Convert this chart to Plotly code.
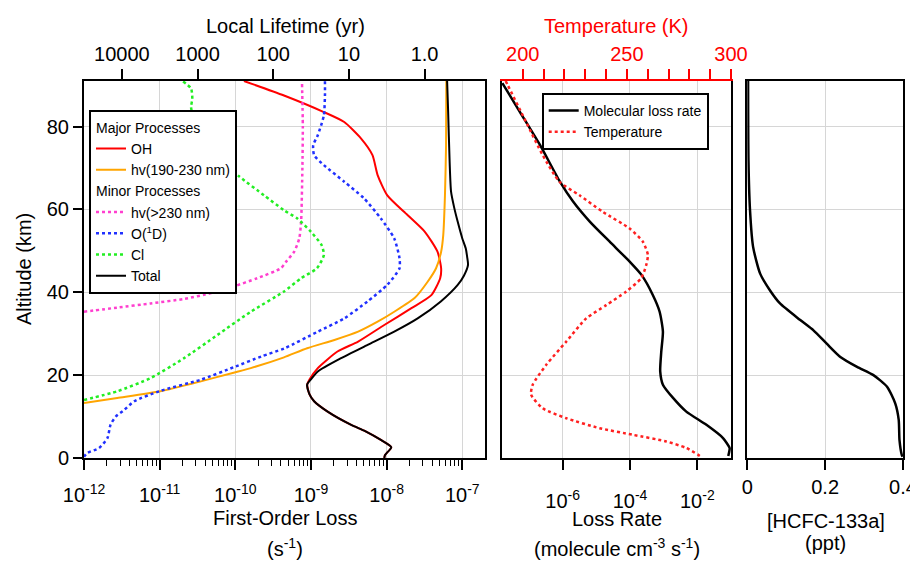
import plotly.graph_objects as go

# ---------------- data ----------------
# Left panel: first-order loss (s^-1) vs altitude (km)
total_alt = [0.0, 0.7, 2.6, 4.3, 6.5, 8.0, 11.2, 13.7, 15.5, 17.7, 19.0, 20.9, 24.1, 27.3, 30.5,
             33.7, 37.8, 41.8, 44.0, 46.6, 48.5, 50.6, 53.0, 57.0, 60.5, 64.3, 71.5, 83.5, 91.0]
total_k = [9.3e-9, 9.5e-9, 1.15e-8, 8.5e-9, 5.2e-9, 3.4e-9, 1.66e-9, 1.10e-9, 9.5e-10, 8.9e-10, 1.0e-9,
           1.23e-9, 2.5e-9, 5.6e-9, 1.26e-8, 2.57e-8, 5.2e-8, 8.7e-8, 1.05e-7, 1.19e-7, 1.16e-7,
           1.11e-7, 1.0e-7, 8.7e-8, 7.8e-8, 7.1e-8, 6.8e-8, 6.5e-8, 6.3e-8]

oh_alt = [0.0, 0.7, 2.6, 4.3, 6.5, 8.0, 11.2, 13.7, 15.5, 17.7, 19.0, 21.7, 25.7, 28.1, 32.1, 36.1,
          39.3, 43.4, 45.8, 49.8, 54.6, 58.6, 63.4, 68.3, 73.1, 77.1, 81.1, 83.5, 87.5, 91.0]
oh_k = [9.3e-9, 9.5e-9, 1.15e-8, 8.5e-9, 5.2e-9, 3.4e-9, 1.66e-9, 1.10e-9, 9.5e-10, 8.9e-10, 9.6e-10,
        1.23e-9, 2.24e-9, 4.2e-9, 9.3e-9, 2.1e-8, 3.9e-8, 5.1e-8, 5.25e-8, 4.7e-8, 3.2e-8, 1.9e-8,
        1.02e-8, 7.6e-9, 6.5e-9, 4.6e-9, 2.75e-9, 1.48e-9, 4.4e-10, 1.3e-10]

hv190_alt = [13.3, 14.5, 16.1, 18.5, 20.6, 21.7, 24.3, 26.5, 28.5, 30.5, 32.9, 35.3, 38.6, 42.6,
             45.8, 49.8, 53.8, 63.4, 75.5, 91.0]
hv190_k = [1.0e-12, 2.75e-12, 1.02e-11, 3.5e-11, 9.5e-11, 1.6e-10, 4.4e-10, 8.9e-10, 2.04e-9,
           4.2e-9, 7.6e-9, 1.26e-8, 2.34e-8, 3.5e-8, 4.5e-8, 5.25e-8, 5.6e-8, 5.9e-8, 6.1e-8, 6.15e-8]

hv230_alt = [35.3, 36.3, 37.3, 38.4, 39.8, 41.4, 43.4, 45.8, 47.4, 49.8, 53.0, 57.0, 70.0, 80.0, 91.0]
hv230_k = [1.0e-12, 2.75e-12, 7.6e-12, 2.1e-11, 4.8e-11, 9.5e-11, 1.95e-10, 4.0e-10, 4.7e-10,
           6.0e-10, 7.0e-10, 7.4e-10, 7.7e-10, 7.8e-10, 7.6e-10]

o1d_alt = [0.3, 1.2, 2.4, 4.8, 8.0, 10.0, 11.6, 13.7, 16.2, 18.9, 21.9, 24.5, 26.5, 30.5, 33.7,
           37.8, 41.8, 45.8, 48.2, 53.0, 57.8, 62.7, 66.7, 70.7, 73.1, 75.5, 77.9, 82.7, 87.5, 91.0]
o1d_k = [1.0e-12, 1.1e-12, 1.58e-12, 2.04e-12, 2.24e-12, 2.63e-12, 3.4e-12, 4.6e-12, 1.02e-11,
         3.5e-11, 9.5e-11, 2.2e-10, 4.5e-10, 1.23e-9, 2.75e-9, 5.6e-9, 1.02e-8, 1.48e-8, 1.48e-8,
         1.26e-8, 8.4e-9, 5.0e-9, 2.75e-9, 1.48e-9, 1.1e-9, 1.07e-9, 1.23e-9, 1.48e-9, 1.53e-9, 1.53e-9]

cl_alt = [14.0, 16.1, 19.3, 24.1, 29.7, 35.3, 40.2, 43.4, 45.8, 49.0, 51.4, 54.6, 57.8, 59.8, 63.4,
          68.0, 73.0, 78.0, 82.0, 84.7, 86.7, 89.2, 91.0]
cl_k = [1.0e-12, 2.75e-12, 7.6e-12, 2.1e-11, 5.8e-11, 1.6e-10, 4.4e-10, 7.4e-10, 1.2e-9, 1.48e-9,
        1.38e-9, 1.0e-9, 6.6e-10, 4.4e-10, 2.4e-10, 1.12e-10, 5.6e-11, 3.5e-11, 2.8e-11, 2.6e-11,
        2.7e-11, 2.6e-11, 2.0e-11]

# Middle panel: molecular loss rate (molecule cm^-3 s^-1) and temperature (K)
rate_alt = [0.5, 1.2, 2.4, 4.8, 8.0, 11.2, 14.5, 17.7, 20.9, 25.7, 30.5, 35.3, 39.3, 44.2, 47.4,
            52.2, 57.0, 61.9, 66.7, 75.5, 83.5, 90.5]
rate_val = [8.3e-2, 8.7e-2, 9.1e-2, 5.8e-2, 1.86e-2, 4.7e-3, 1.9e-3, 9.5e-4, 7.9e-4, 8.5e-4, 9.5e-4,
            7.6e-4, 4.8e-4, 2.2e-4, 9.8e-5, 2.5e-5, 6.5e-6, 2.04e-6, 8.3e-7, 2.14e-7, 5.4e-8, 1.62e-8]

temp_alt = [0.5, 0.8, 2.4, 4.0, 5.6, 7.2, 9.6, 12.0, 15.3, 17.7, 22.5, 28.1, 33.7, 36.9, 40.2, 43.4,
            46.6, 49.0, 52.2, 55.4, 59.4, 63.4, 66.7, 73.1, 81.1, 90.0, 91.0]
temp_val = [285.0, 284.1, 278.6, 268.9, 252.9, 236.9, 220.9, 209.6, 204.0, 204.8, 211.3, 220.9, 230.5,
            240.1, 249.7, 256.9, 259.3, 260.1, 257.7, 251.3, 238.5, 227.3, 217.6, 209.6, 201.6, 192.8, 191.8]

# Right panel: HCFC-133a mixing ratio (ppt)
hcfc_alt = [0.3, 0.7, 4.3, 9.2, 13.2, 17.2, 20.0, 22.0, 24.4, 27.6, 30.8, 33.3, 37.3, 40.5, 44.5,
            50.9, 59.8, 71.8, 91.0]
hcfc_val = [0.399, 0.397, 0.391, 0.389, 0.380, 0.359, 0.324, 0.282, 0.239, 0.204, 0.170, 0.136, 0.084,
            0.058, 0.033, 0.015, 0.007, 0.003, 0.002]

# Tick labels
loss_ticks = [1e-12, 1e-11, 1e-10, 1e-9, 1e-8, 1e-7]
loss_ticktext = ["10<sup>-12</sup>", "10<sup>-11</sup>", "10<sup>-10</sup>", "10<sup>-9</sup>",
                 "10<sup>-8</sup>", "10<sup>-7</sup>"]
lifetime_years = [10000, 1000, 100, 10, 1]
lifetime_text = ["10000", "1000", "100", "10", "1.0"]
rate_ticks = [1e-6, 1e-4, 1e-2]
rate_ticktext = ["10<sup>-6</sup>", "10<sup>-4</sup>", "10<sup>-2</sup>"]
temp_ticks = [200, 250, 300]
temp_minor_ticks = [210, 220, 230, 240, 260, 270, 280, 290]
hcfc_ticks = [0, 0.2, 0.4]
hcfc_ticktext = ["0", "0.2", "0.4"]
alt_ticks = [0, 20, 40, 60, 80]

SEC_PER_YEAR = 3.156e7

# ---------------- figure ----------------
FONT = "Liberation Sans, Arial, Helvetica, sans-serif"
GRID = "#d6d6d6"
OFF = 8  # page body margin (top/left)
W, H = 918 - OFF, 561 - OFF
PLOT_L, PLOT_R, PLOT_T, PLOT_B = 84, 903, 81, 458   # wanted page pixels of the plotting area
ML, MT = PLOT_L - OFF, PLOT_T - OFF
MR = W - (PLOT_R - OFF)
MB = H - (PLOT_B - OFF)
PW, PH = W - ML - MR, H - MT - MB


def xp(px):
    return (px - PLOT_L) / PW


def yp(py):
    return (PLOT_B - py) / PH


fig = go.Figure()

common = dict(mode="lines", line_shape="spline", hoverinfo="skip")

fig.add_trace(go.Scatter(x=oh_k, y=oh_alt, name="OH", line=dict(color="#ff0000", width=2, smoothing=0.6),
                         legend="legend", legendgroup="major", legendgrouptitle_text="Major Processes",
                         xaxis="x", yaxis="y", **common))
fig.add_trace(go.Scatter(x=hv190_k, y=hv190_alt, name="hv(190-230 nm)",
                         line=dict(color="#ffa500", width=2, smoothing=0.6),
                         legend="legend", legendgroup="major", xaxis="x", yaxis="y", **common))
fig.add_trace(go.Scatter(x=hv230_k, y=hv230_alt, name="hv(>230 nm)",
                         line=dict(color="#ff3fcf", width=2.5, dash="dot", smoothing=0.6),
                         legend="legend", legendgroup="minor", legendgrouptitle_text="Minor Processes",
                         xaxis="x", yaxis="y", **common))
fig.add_trace(go.Scatter(x=o1d_k, y=o1d_alt, name="O(<sup>1</sup>D)",
                         line=dict(color="#2030ff", width=2.5, dash="dot", smoothing=0.6),
                         legend="legend", legendgroup="minor", xaxis="x", yaxis="y", **common))
fig.add_trace(go.Scatter(x=cl_k, y=cl_alt, name="Cl",
                         line=dict(color="#22ee22", width=2.5, dash="dot", smoothing=0.6),
                         legend="legend", legendgroup="minor", xaxis="x", yaxis="y", **common))
fig.add_trace(go.Scatter(x=total_k, y=total_alt, name="Total",
                         line=dict(color="#000000", width=2, smoothing=0.6),
                         legend="legend", legendgroup="total", xaxis="x", yaxis="y", **common))
# carrier for the top (lifetime) axis: same total curve, invisible
fig.add_trace(go.Scatter(x=total_k, y=total_alt, name="lifetime axis", showlegend=False,
                         line=dict(color="rgba(0,0,0,0)", width=0), xaxis="x4", yaxis="y", **common))

fig.add_trace(go.Scatter(x=rate_val, y=rate_alt, name="Molecular loss rate",
                         line=dict(color="#000000", width=2.5, smoothing=0.6),
                         legend="legend2", xaxis="x2", yaxis="y2", **common))
fig.add_trace(go.Scatter(x=temp_val, y=temp_alt, name="Temperature",
                         line=dict(color="#ff2020", width=2.5, dash="dot", smoothing=0.6),
                         legend="legend2", xaxis="x5", yaxis="y2", **common))

fig.add_trace(go.Scatter(x=hcfc_val, y=hcfc_alt, name="HCFC-133a",
                         line=dict(color="#000000", width=2.5, smoothing=0.6),
                         showlegend=False, xaxis="x3", yaxis="y3", **common))

tickfont = dict(family=FONT, size=20, color="black")
axis_base = dict(showline=True, linecolor="black", linewidth=2, zeroline=False, automargin=False,
                 ticks="outside", tickcolor="black", tickwidth=1.5, ticklen=10, tickfont=tickfont)

minor_vals = [m * d for d in [1e-12, 1e-11, 1e-10, 1e-9, 1e-8] for m in range(2, 10)]
lifetime_vals = [1.0 / (t * SEC_PER_YEAR) for t in lifetime_years]
x_range = [-12, -6.70]

fig.update_layout(
    width=W, height=H,
    margin=dict(l=ML, r=MR, t=MT, b=MB, autoexpand=False),
    paper_bgcolor="white", plot_bgcolor="white",
    font=dict(family=FONT, size=14, color="black"),
    showlegend=True,
    xaxis=dict(axis_base, domain=[0, xp(485)], type="log", range=x_range, anchor="y",
               tickmode="array", tickvals=loss_ticks, ticktext=loss_ticktext,
               showgrid=True, gridcolor=GRID, gridwidth=1, ticklabelstandoff=8,
               minor=dict(ticks="outside", ticklen=6, tickwidth=1.2, tickcolor="black",
                          tickmode="array", tickvals=minor_vals, showgrid=False)),
    xaxis4=dict(axis_base, overlaying="x", side="top", anchor="y", type="log", range=x_range,
                tickmode="array", tickvals=lifetime_vals, ticktext=lifetime_text, showgrid=False),
    xaxis2=dict(axis_base, domain=[xp(501.7), xp(731)], type="log", range=[-7.81, -1.0], anchor="y2",
                tickmode="array", tickvals=rate_ticks, ticktext=rate_ticktext, ticklabelstandoff=14,
                showgrid=True, gridcolor=GRID, gridwidth=1),
    xaxis5=dict(axis_base, overlaying="x2", side="top", anchor="y2", range=[189.9, 300],
                tickmode="array", tickvals=temp_ticks,
                linecolor="#ff0000", tickcolor="#ff0000",
                tickfont=dict(family=FONT, size=20, color="#ff0000"), showgrid=False,
                minor=dict(ticks="outside", ticklen=10, tickwidth=1.5, tickcolor="#ff0000",
                           tickmode="array", tickvals=temp_minor_ticks, showgrid=False)),
    xaxis3=dict(axis_base, domain=[xp(747.3), 1.0], range=[0, 0.4], anchor="y3", mirror=True,
                tickmode="array", tickvals=hcfc_ticks, ticktext=hcfc_ticktext,
                ticklabeloverflow="allow",
                showgrid=True, gridcolor=GRID, gridwidth=1),
    yaxis=dict(axis_base, domain=[0, 1], range=[0, 91], anchor="x", mirror=True, ticklen=9,
               tickmode="array", tickvals=alt_ticks, showgrid=True, gridcolor=GRID, gridwidth=1),
    yaxis2=dict(axis_base, domain=[0, 1], matches="y", anchor="x2", mirror=True, ticks="",
                showticklabels=False, tickmode="array", tickvals=alt_ticks,
                showgrid=True, gridcolor=GRID, gridwidth=1),
    yaxis3=dict(axis_base, domain=[0, 1], matches="y", anchor="x3", mirror=True, ticks="",
                showticklabels=False, tickmode="array", tickvals=alt_ticks,
                showgrid=True, gridcolor=GRID, gridwidth=1),
    legend=dict(x=xp(89), y=yp(109.7), xanchor="left", yanchor="top", bgcolor="white",
                bordercolor="black", borderwidth=2, font=dict(family=FONT, size=14),
                grouptitlefont=dict(family=FONT, size=14), tracegroupgap=0, traceorder="grouped"),
    legend2=dict(x=xp(541.7), y=yp(93), xanchor="left", yanchor="top", bgcolor="white",
                 bordercolor="black", borderwidth=2, font=dict(family=FONT, size=14), tracegroupgap=0),
)

ann = dict(showarrow=False, xref="paper", yref="paper", xanchor="center", yanchor="middle",
           font=dict(family=FONT, size=20, color="black"))
fig.add_annotation(ann, x=xp(285), y=yp(26), text="Local Lifetime (yr)")
fig.add_annotation(ann, x=xp(616.7), y=yp(26), text="Temperature (K)",
                   font=dict(family=FONT, size=20, color="#ff0000"))
fig.add_annotation(ann, x=xp(285), y=yp(518), text="First-Order Loss")
fig.add_annotation(ann, x=xp(285), y=yp(547), text="(s<sup>-1</sup>)")
fig.add_annotation(ann, x=xp(616.7), y=yp(519), text="Loss Rate")
fig.add_annotation(ann, x=xp(616.7), y=yp(547), text="(molecule cm<sup>-3</sup> s<sup>-1</sup>)")
fig.add_annotation(ann, x=xp(825.8), y=yp(520.5), text="[HCFC-133a]")
fig.add_annotation(ann, x=xp(825.8), y=yp(543), text="(ppt)")
fig.add_annotation(ann, x=xp(24), y=yp(269), text="Altitude (km)", textangle=-90)

fig.write_html("out.html")
